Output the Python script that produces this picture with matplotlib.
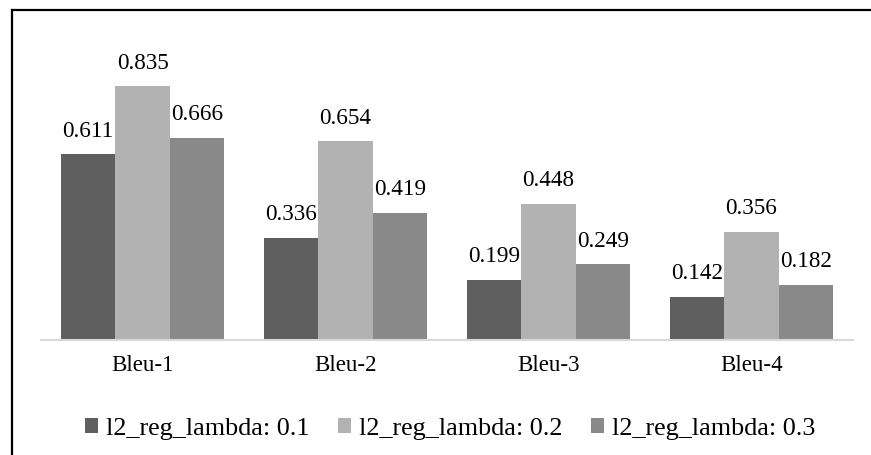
import matplotlib
matplotlib.use("Agg")
import matplotlib.pyplot as plt
from matplotlib.lines import Line2D
from matplotlib.patches import Patch
import numpy as np

plt.rcParams['font.family'] = ['Liberation Serif', 'DejaVu Serif']

categories = ["Bleu-1", "Bleu-2", "Bleu-3", "Bleu-4"]
series_names = ["l2_reg_lambda: 0.1", "l2_reg_lambda: 0.2", "l2_reg_lambda: 0.3"]
lambda_01 = [0.611, 0.336, 0.199, 0.142]
lambda_02 = [0.835, 0.654, 0.448, 0.356]
lambda_03 = [0.666, 0.419, 0.249, 0.182]
colors = ["#5f5f5f", "#b2b2b2", "#898989"]

W, H, DPI = 871, 455, 100
fig = plt.figure(figsize=(W / DPI, H / DPI), dpi=DPI)
ax = fig.add_axes([41 / W, 115 / H, 812 / W, 273.6 / H])

x = np.arange(len(categories))
bw = 0.268
for k, (vals, c) in enumerate(zip([lambda_01, lambda_02, lambda_03], colors)):
    xs = x + (k - 1) * bw
    ax.bar(xs, vals, width=bw, color=c, linewidth=0, zorder=2)
    for xi, v in zip(xs, vals):
        ax.annotate(f"{v:.3f}", (xi, v), xytext=(0, 12.5), textcoords="offset points",
                    ha="center", va="baseline", fontsize=16.7, color="#000000")

ax.set_xlim(-0.5, len(categories) - 0.5)
ax.set_ylim(0, 0.9)
ax.axhline(0, color="#d9d9d9", lw=1.5, zorder=3, clip_on=False)
for s in ax.spines.values():
    s.set_visible(False)
ax.set_yticks([])
ax.set_xticks(x)
ax.set_xticklabels(categories, fontsize=16.5)
ax.tick_params(axis="x", length=0, pad=11)

handles = [Patch(facecolor=c, edgecolor="none") for c in colors]
fig.legend(handles, series_names, loc="center", bbox_to_anchor=(450 / W, 26 / H), ncol=3,
           frameon=False, fontsize=18.8, handlelength=0.5, handleheight=0.5,
           handletextpad=0.3, columnspacing=1.1, borderaxespad=0)

# Frame lines along the left and top edges
fig.add_artist(Line2D([11.5 / W, 11.5 / W], [0, 1 - 9.5 / H], color="black", lw=1.6,
                      transform=fig.transFigure))
fig.add_artist(Line2D([11.5 / W, 1], [1 - 9.5 / H, 1 - 9.5 / H], color="black", lw=1.6,
                      transform=fig.transFigure))

fig.savefig("out.png", dpi=DPI, facecolor="white")
